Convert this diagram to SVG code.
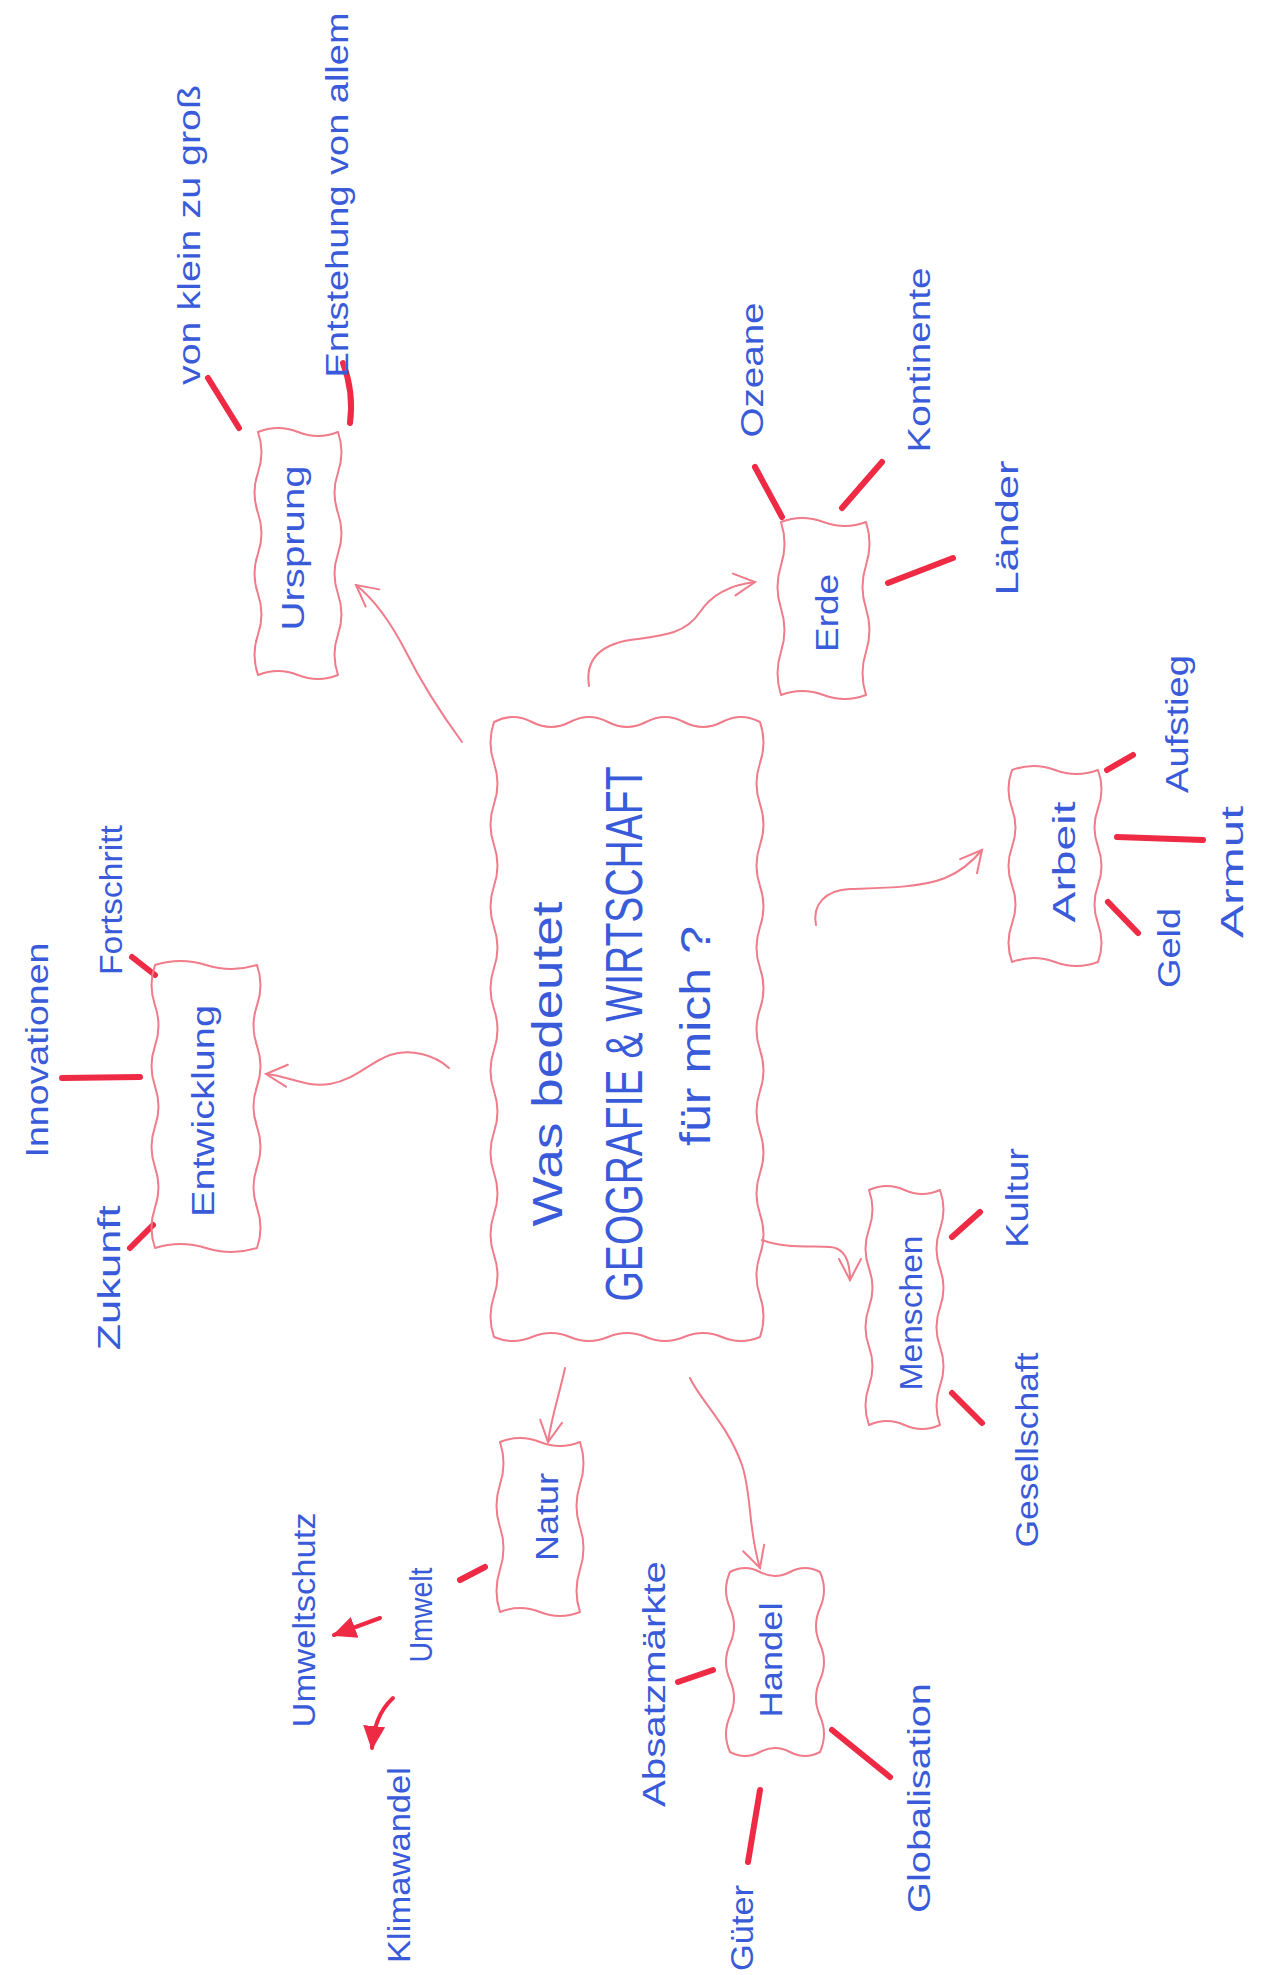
<svg xmlns="http://www.w3.org/2000/svg" width="1264" height="1975" viewBox="0 0 1264 1975">
<style>
.bx{fill:none;stroke:#f07b8a;stroke-width:2;stroke-linejoin:round}
.cn{fill:none;stroke:#f07b8a;stroke-width:2;stroke-linecap:round;marker-end:url(#ah)}
.rd{fill:none;stroke:#ee2a44;stroke-width:6;stroke-linecap:round}
.ra{fill:none;stroke:#ee2a44;stroke-width:4;stroke-linecap:round;marker-end:url(#ahr)}
.t{font-family:"Liberation Sans",Arial,sans-serif;fill:#3a5bd9;font-size:32px;text-anchor:middle}
.c{font-size:42px}
.g{font-size:52px}
</style>
<defs>
<marker id="ah" markerUnits="userSpaceOnUse" markerWidth="30" markerHeight="30" viewBox="0 0 30 30" refX="27" refY="15" orient="auto"><path d="M6 4 L27 15 L6 26" fill="none" stroke="#f07b8a" stroke-width="2" stroke-linecap="round"/></marker>
<marker id="ahr" markerUnits="userSpaceOnUse" markerWidth="26" markerHeight="26" viewBox="0 0 26 26" refX="22" refY="13" orient="auto"><path d="M0 2 L24 13 L0 24 Z" fill="#ee2a44"/></marker>
</defs>
<rect width="1264" height="1975" fill="#ffffff"/>
<g id="connectors">
<path class="cn" d="M462 742 C440 712 420 680 405 650 C392 625 375 600 356 585"/>
<path class="cn" d="M589 686 C585 660 600 645 630 640 C660 636 685 635 700 612 C712 594 730 585 755 582"/>
<path class="cn" d="M449 1068 C435 1055 410 1048 390 1055 C370 1062 355 1080 330 1084 C305 1088 290 1076 266 1074"/>
<path class="cn" d="M816 925 C812 905 825 890 850 889 C880 888 920 888 945 878 C960 872 972 862 982 850"/>
<path class="cn" d="M762 1240 C780 1248 810 1246 830 1247 C845 1248 850 1262 850 1280"/>
<path class="cn" d="M565 1368 C560 1392 552 1415 548 1442"/>
<path class="cn" d="M690 1378 C700 1400 728 1425 742 1465 C752 1495 748 1530 760 1568"/>
<line class="rd" x1="208" y1="378" x2="239" y2="428"/>
<path class="rd" d="M343 363 Q354 392 350 423"/>
<line class="rd" x1="755" y1="467" x2="782" y2="517"/>
<line class="rd" x1="882" y1="462" x2="842" y2="508"/>
<line class="rd" x1="953" y1="558" x2="888" y2="583"/>
<line class="rd" x1="1107" y1="770" x2="1133" y2="755"/>
<line class="rd" x1="1117" y1="837" x2="1203" y2="840"/>
<line class="rd" x1="1108" y1="902" x2="1138" y2="933"/>
<line class="rd" x1="132" y1="957" x2="155" y2="975"/>
<line class="rd" x1="62" y1="1078" x2="140" y2="1077"/>
<line class="rd" x1="130" y1="1248" x2="153" y2="1225"/>
<line class="rd" x1="952" y1="1237" x2="980" y2="1212"/>
<line class="rd" x1="952" y1="1393" x2="982" y2="1423"/>
<line class="rd" x1="460" y1="1580" x2="485" y2="1567"/>
<line class="rd" x1="678" y1="1682" x2="713" y2="1670"/>
<line class="rd" x1="760" y1="1790" x2="748" y2="1862"/>
<line class="rd" x1="832" y1="1730" x2="890" y2="1777"/>
<path class="ra" d="M380 1618 L334 1635"/>
<path class="ra" d="M393 1698 C378 1712 374 1728 372 1748"/>
</g>
<g id="central">
<path class="bx" d="M494 722 Q513 712 532 722 T570 722 T608 722 T646 722 T684 722 T722 722 T760 722 Q767 742.5 760 763 T760 804 T760 845 T760 886 T760 927 T760 968 T760 1009 T760 1050 T760 1091 T760 1132 T760 1173 T760 1214 T760 1255 T760 1296 T760 1337 Q741 1345 722 1337 T684 1337 T646 1337 T608 1337 T570 1337 T532 1337 T494 1337 Q487 1316.5 494 1296 T494 1255 T494 1214 T494 1173 T494 1132 T494 1091 T494 1050 T494 1009 T494 968 T494 927 T494 886 T494 845 T494 804 T494 763 T494 722 Z"/>
<text class="t c" transform="translate(562 1064) rotate(-90)" textLength="325" lengthAdjust="spacingAndGlyphs">Was bedeutet</text>
<text class="t g" transform="translate(642 1034) rotate(-90)" textLength="535" lengthAdjust="spacingAndGlyphs">GEOGRAFIE &amp; WIRTSCHAFT</text>
<text class="t c" transform="translate(710 1036) rotate(-90)" textLength="220" lengthAdjust="spacingAndGlyphs">für mich ?</text>
</g>
<g id="ursprung">
<path class="bx" d="M258 432 Q278 424 298 432 T338 432 Q345 452.25 338 472.5 T338 513 T338 553.5 T338 594 T338 634.5 T338 675 Q318 683 298 675 T258 675 Q251 654.75 258 634.5 T258 594 T258 553.5 T258 513 T258 472.5 T258 432 Z"/>
<text class="t" transform="translate(304 548) rotate(-90)" textLength="165" lengthAdjust="spacingAndGlyphs">Ursprung</text>
</g>
<g id="erde">
<path class="bx" d="M781 522 Q802 514 823.5 522 T866 522 Q873 543.6 866 565.25 T866 608.5 T866 651.75 T866 695 Q844.75 703 823.5 695 T781 695 Q774 673.4 781 651.75 T781 608.5 T781 565.25 T781 522 Z"/>
<text class="t" transform="translate(838 613) rotate(-90)" textLength="78" lengthAdjust="spacingAndGlyphs">Erde</text>
</g>
<g id="entwicklung">
<path class="bx" d="M155 965 Q180.5 957 206 965 T257 965 Q264 985.2 257 1005.4 T257 1045.9 T257 1086.3 T257 1126.7 T257 1167.1 T257 1207.6 T257 1248 Q231.5 1256 206 1248 T155 1248 Q148 1227.8 155 1207.6 T155 1167.1 T155 1126.7 T155 1086.3 T155 1045.9 T155 1005.4 T155 965 Z"/>
<text class="t" transform="translate(214 1111) rotate(-90)" textLength="212" lengthAdjust="spacingAndGlyphs">Entwicklung</text>
</g>
<g id="arbeit">
<path class="bx" d="M1012 770 Q1033.5 762 1055 770 T1098 770 Q1105 789.2 1098 808.4 T1098 846.8 T1098 885.2 T1098 923.6 T1098 962 Q1076.5 970 1055 962 T1012 962 Q1005 942.8 1012 923.6 T1012 885.2 T1012 846.8 T1012 808.4 T1012 770 Z"/>
<text class="t" transform="translate(1075 862) rotate(-90)" textLength="121" lengthAdjust="spacingAndGlyphs">Arbeit</text>
</g>
<g id="menschen">
<path class="bx" d="M869 1190 Q887 1182 904.5 1190 T940 1190 Q947 1209.6 940 1229.2 T940 1268.3 T940 1307.5 T940 1346.7 T940 1385.8 T940 1425 Q922 1433 904.5 1425 T869 1425 Q862 1405.4 869 1385.8 T869 1346.7 T869 1307.5 T869 1268.3 T869 1229.2 T869 1190 Z"/>
<text class="t" transform="translate(922 1313) rotate(-90)" textLength="155" lengthAdjust="spacingAndGlyphs">Menschen</text>
</g>
<g id="natur">
<path class="bx" d="M500 1442 Q520 1434 540 1442 T580 1442 Q587 1463.25 580 1484.5 T580 1527 T580 1569.5 T580 1612 Q560 1620 540 1612 T500 1612 Q493 1590.75 500 1569.5 T500 1527 T500 1484.5 T500 1442 Z"/>
<text class="t" transform="translate(558 1517) rotate(-90)" textLength="88" lengthAdjust="spacingAndGlyphs">Natur</text>
</g>
<g id="handel">
<path class="bx" d="M730 1572 Q745 1564 760 1572 T790 1572 T820 1572 Q828 1590 820 1608 T820 1644 T820 1680 T820 1716 T820 1752 Q805 1760 790 1752 T760 1752 T730 1752 Q722 1734 730 1716 T730 1680 T730 1644 T730 1608 T730 1572 Z"/>
<text class="t" transform="translate(782 1660) rotate(-90)" textLength="115" lengthAdjust="spacingAndGlyphs">Handel</text>
</g>
<g id="von-klein-zu-gross"><text class="t" transform="translate(200 235) rotate(-90)" textLength="300" lengthAdjust="spacingAndGlyphs">von klein zu groß</text></g>
<g id="entstehung"><text class="t" transform="translate(348 195) rotate(-90)" textLength="365" lengthAdjust="spacingAndGlyphs">Entstehung von allem</text></g>
<g id="ozeane"><text class="t" transform="translate(763 370) rotate(-90)" textLength="135" lengthAdjust="spacingAndGlyphs">Ozeane</text></g>
<g id="kontinente"><text class="t" transform="translate(930 360) rotate(-90)" textLength="185" lengthAdjust="spacingAndGlyphs">Kontinente</text></g>
<g id="laender"><text class="t" transform="translate(1018 528) rotate(-90)" textLength="135" lengthAdjust="spacingAndGlyphs">Länder</text></g>
<g id="aufstieg"><text class="t" transform="translate(1188 724) rotate(-90)" textLength="138" lengthAdjust="spacingAndGlyphs">Aufstieg</text></g>
<g id="armut"><text class="t" transform="translate(1243 872) rotate(-90)" textLength="132" lengthAdjust="spacingAndGlyphs">Armut</text></g>
<g id="geld"><text class="t" transform="translate(1180 948) rotate(-90)" textLength="80" lengthAdjust="spacingAndGlyphs">Geld</text></g>
<g id="fortschritt"><text class="t" transform="translate(122 900) rotate(-90)" textLength="150" lengthAdjust="spacingAndGlyphs">Fortschritt</text></g>
<g id="innovationen"><text class="t" transform="translate(48 1050) rotate(-90)" textLength="215" lengthAdjust="spacingAndGlyphs">Innovationen</text></g>
<g id="zukunft"><text class="t" transform="translate(120 1278) rotate(-90)" textLength="145" lengthAdjust="spacingAndGlyphs">Zukunft</text></g>
<g id="kultur"><text class="t" transform="translate(1028 1198) rotate(-90)" textLength="100" lengthAdjust="spacingAndGlyphs">Kultur</text></g>
<g id="gesellschaft"><text class="t" transform="translate(1038 1450) rotate(-90)" textLength="195" lengthAdjust="spacingAndGlyphs">Gesellschaft</text></g>
<g id="umwelt"><text class="t" transform="translate(432 1615) rotate(-90)" textLength="95" lengthAdjust="spacingAndGlyphs">Umwelt</text></g>
<g id="umweltschutz"><text class="t" transform="translate(315 1620) rotate(-90)" textLength="215" lengthAdjust="spacingAndGlyphs">Umweltschutz</text></g>
<g id="klimawandel"><text class="t" transform="translate(410 1865) rotate(-90)" textLength="196" lengthAdjust="spacingAndGlyphs">Klimawandel</text></g>
<g id="absatzmaerkte"><text class="t" transform="translate(665 1684) rotate(-90)" textLength="246" lengthAdjust="spacingAndGlyphs">Absatzmärkte</text></g>
<g id="gueter"><text class="t" transform="translate(753 1928) rotate(-90)" textLength="86" lengthAdjust="spacingAndGlyphs">Güter</text></g>
<g id="globalisation"><text class="t" transform="translate(930 1798) rotate(-90)" textLength="230" lengthAdjust="spacingAndGlyphs">Globalisation</text></g>
</svg>
